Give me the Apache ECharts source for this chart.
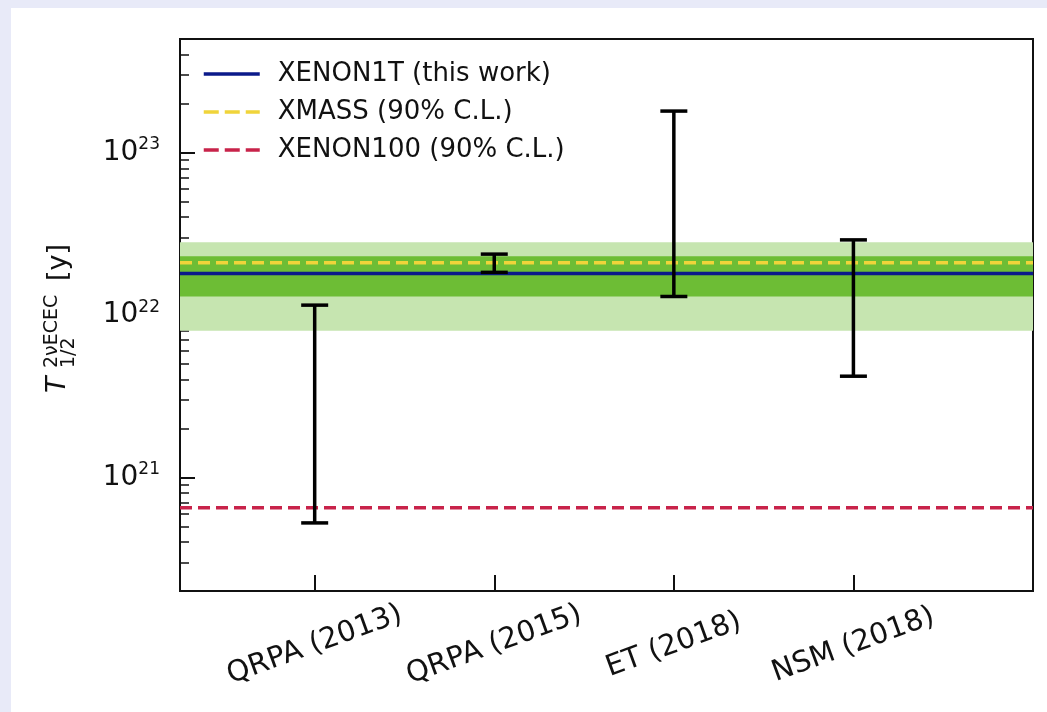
<!DOCTYPE html>
<html><head><meta charset="utf-8">
<script src="https://cdn.jsdelivr.net/npm/echarts@6/dist/echarts.min.js"></script>
<style>html,body{margin:0;padding:0;background:#e8eaf8;}#c{width:1047px;height:712px;}</style>
</head><body><div id="c"></div>
<script>
// ---- data ----
const categories = ['QRPA (2013)', 'QRPA (2015)', 'ET (2018)', 'NSM (2018)'];
const categoryX = [1, 2, 3, 4];
const predLow = [5.25e20, 1.83e22, 1.3e22, 4.2e21];
const predHigh = [1.15e22, 2.37e22, 1.8e23, 2.9e22];
const xenon1t = 1.8e22;
const band1sigma = [1.3e22, 2.3e22];
const band2sigma = [8.0e21, 2.8e22];
const xmassLimit = 2.1e22;
const xenon100Limit = 6.5e20;
const xRange = [0.25, 5];
const yRange = [2e20, 5e23];
const majorTicks = [1e21, 1e22, 1e23];
const minorTicks = [2e20, 3e20, 4e20, 5e20, 6e20, 7e20, 8e20, 9e20,
                    2e21, 3e21, 4e21, 5e21, 6e21, 7e21, 8e21, 9e21,
                    2e22, 3e22, 4e22, 5e22, 6e22, 7e22, 8e22, 9e22,
                    2e23, 3e23, 4e23, 5e23];
const seriesNames = ['XENON1T (this work)', 'XMASS (90% C.L.)', 'XENON100 (90% C.L.)'];

const FONT = '"DejaVu Sans", "Liberation Sans", sans-serif';
const TXT = '#111';
const BLUE = '#0b1a8a', GOLD = '#f0d43a', RED = '#c8234a';
const chart = echarts.init(document.getElementById('c'), null, {renderer: 'canvas'});

const errData = categoryX.map((x, i) => [x, predLow[i], predHigh[i]]);
const hiddenSym = {color: 'transparent', borderColor: 'transparent', borderWidth: 0, opacity: 0};

const option = {
  backgroundColor: '#e8eaf8',
  animation: false,
  grid: {left: 180, right: 14, top: 39, bottom: 121, show: true, borderColor: '#111', borderWidth: 2, backgroundColor: '#fff'},
  graphic: [
    {type: 'rect', z: -100, silent: true, shape: {x: 11, y: 8, width: 1036, height: 704}, style: {fill: '#fff'}},
    {type: 'group', x: 58, y: 393, rotation: Math.PI / 2, silent: true, children: [
      {type: 'text', x: 0, y: 0, style: {text: 'T', font: 'italic 27px ' + FONT, fill: TXT, verticalAlign: 'middle', align: 'left'}},
      {type: 'text', x: 25, y: -6, style: {text: '2νECEC', font: '19px ' + FONT, fill: TXT, verticalAlign: 'middle', align: 'left'}},
      {type: 'text', x: 25, y: 11, style: {text: '1/2', font: '19px ' + FONT, fill: TXT, verticalAlign: 'middle', align: 'left'}},
      {type: 'text', x: 112, y: 1, style: {text: '[y]', font: '27px ' + FONT, fill: TXT, verticalAlign: 'middle', align: 'left'}}
    ]}
  ],
  legend: {
    orient: 'vertical', left: 197, top: 56, itemWidth: 56, itemHeight: 14, itemGap: 12,
    selectedMode: false,
    itemStyle: hiddenSym,
    data: [
      {name: seriesNames[0], itemStyle: hiddenSym, lineStyle: {color: BLUE, width: 3.5, type: 'solid'}},
      {name: seriesNames[1], itemStyle: hiddenSym, lineStyle: {color: GOLD, width: 3.5, type: [15, 6]}},
      {name: seriesNames[2], itemStyle: hiddenSym, lineStyle: {color: RED, width: 3.5, type: [15, 6]}}
    ],
    textStyle: {fontFamily: FONT, fontSize: 26, color: TXT, lineHeight: 26, padding: [0, 0, 0, 13]}
  },
  xAxis: {
    type: 'value', min: xRange[0], max: xRange[1],
    splitLine: {show: false}, axisLine: {show: false},
    axisTick: {show: true, inside: true, length: 16, customValues: categoryX, lineStyle: {color: '#111', width: 2}},
    axisLabel: {customValues: categoryX, formatter: v => categories[Math.round(v) - 1] || '', rotate: 20,
      align: 'center', verticalAlign: 'middle', margin: 54, fontFamily: FONT, fontSize: 29, color: TXT}
  },
  yAxis: [
    {
      type: 'log', logBase: 10, min: yRange[0], max: yRange[1],
      splitLine: {show: false}, axisLine: {show: false},
      axisTick: {show: true, inside: true, length: 15, customValues: majorTicks, lineStyle: {color: '#111', width: 2}},
      axisLabel: {customValues: majorTicks, margin: 20,
        formatter: v => '{b|10}{s|' + Math.round(Math.log10(v)) + '}',
        rich: {b: {fontFamily: FONT, fontSize: 28, color: TXT, lineHeight: 32}, s: {fontFamily: FONT, fontSize: 17, color: TXT, verticalAlign: 'top'}}}
    },
    {
      type: 'log', logBase: 10, min: yRange[0], max: yRange[1], position: 'left',
      splitLine: {show: false}, axisLine: {show: false}, axisLabel: {show: false},
      axisTick: {show: true, inside: true, length: 9, customValues: minorTicks, lineStyle: {color: '#111', width: 1.5}}
    }
  ],
  series: [
    {
      type: 'line', name: 'bands', data: [], silent: true, z: 1,
      markArea: {silent: true, data: [
        [{yAxis: band2sigma[0], itemStyle: {color: '#c6e5b0'}}, {yAxis: band2sigma[1]}],
        [{yAxis: band1sigma[0], itemStyle: {color: '#6dbd35'}}, {yAxis: band1sigma[1]}]
      ]}
    },
    {name: seriesNames[0], type: 'line', symbol: 'none', z: 3, data: [[xRange[0], xenon1t], [xRange[1], xenon1t]],
      lineStyle: {color: BLUE, width: 3.5}, itemStyle: {color: BLUE}},
    {name: seriesNames[1], type: 'line', symbol: 'none', z: 4, data: [[xRange[0], xmassLimit], [xRange[1], xmassLimit]],
      lineStyle: {color: GOLD, width: 3.5, type: [12, 6]}, itemStyle: {color: GOLD}},
    {name: seriesNames[2], type: 'line', symbol: 'none', z: 4, data: [[xRange[0], xenon100Limit], [xRange[1], xenon100Limit]],
      lineStyle: {color: RED, width: 3.5, type: [12, 6]}, itemStyle: {color: RED}},
    {
      type: 'custom', name: 'predictions', z: 6, data: errData, encode: {x: 0, y: [1, 2]},
      renderItem: (params, api) => {
        const x = api.value(0);
        const lo = api.coord([x, api.value(1)]);
        const hi = api.coord([x, api.value(2)]);
        const hw = 13.5;
        const st = {stroke: '#000', lineWidth: 3.5};
        return {type: 'group', children: [
          {type: 'line', shape: {x1: lo[0], y1: lo[1], x2: hi[0], y2: hi[1]}, style: st},
          {type: 'line', shape: {x1: lo[0] - hw, y1: lo[1], x2: lo[0] + hw, y2: lo[1]}, style: st},
          {type: 'line', shape: {x1: hi[0] - hw, y1: hi[1], x2: hi[0] + hw, y2: hi[1]}, style: st}
        ]};
      }
    }
  ]
};
chart.setOption(option);
</script></body></html>
